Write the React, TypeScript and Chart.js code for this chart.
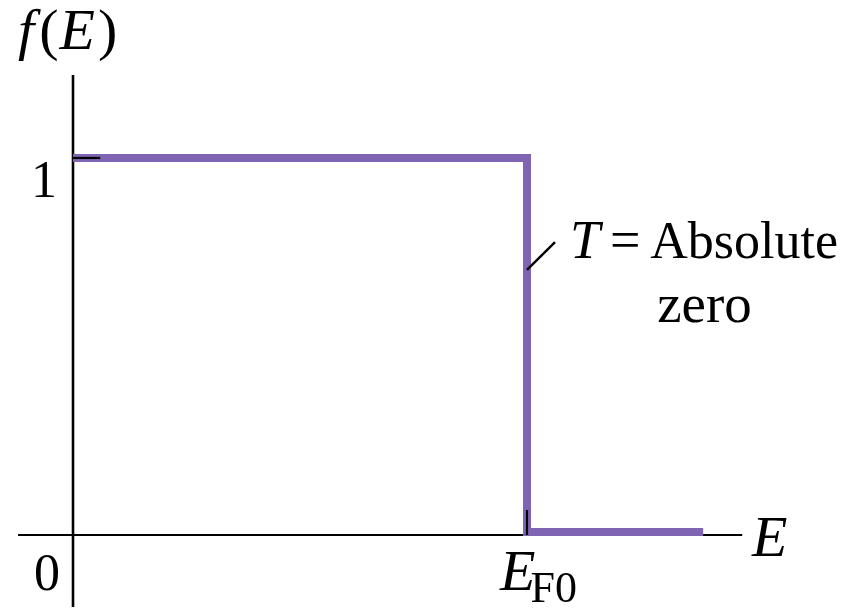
import React, { useEffect, useRef } from "react";
import { Chart, registerables } from "chart.js";

Chart.register(...registerables);

// Fermi–Dirac occupancy at T = 0 (energy in units of E_F0)
const energy = [0, 1, 1, 1.388];
const occupancy = [1, 1, 0.008, 0.008];

// axis extents (data units)
const xAxisSpan = [-0.121, 1.474];
const yAxisSpan = [-0.191, 1.22];
const fermiEnergy = 1;
const unitLevel = 1;

const LINE_COLOR = "#8064b4";
const SERIF = '"Liberation Serif", "Times New Roman", serif';

const axesPlugin = {
  id: "axesPlugin",
  beforeDatasetsDraw(chart: any) {
    const { ctx, scales } = chart;
    const x = scales.x;
    const y = scales.y;
    ctx.save();
    ctx.strokeStyle = "#000";
    ctx.lineCap = "butt";
    ctx.lineWidth = 2.6;
    ctx.beginPath();
    ctx.moveTo(x.getPixelForValue(0), y.getPixelForValue(yAxisSpan[1]));
    ctx.lineTo(x.getPixelForValue(0), y.getPixelForValue(yAxisSpan[0]));
    ctx.stroke();
    ctx.lineWidth = 2;
    ctx.beginPath();
    ctx.moveTo(x.getPixelForValue(xAxisSpan[0]), y.getPixelForValue(0));
    ctx.lineTo(x.getPixelForValue(xAxisSpan[1]), y.getPixelForValue(0));
    ctx.stroke();
    ctx.restore();
  },
  afterDatasetsDraw(chart: any) {
    const { ctx, scales } = chart;
    const x = scales.x;
    const y = scales.y;
    const px = (v: number) => x.getPixelForValue(v);
    const py = (v: number) => y.getPixelForValue(v);
    ctx.save();
    ctx.strokeStyle = "#000";
    ctx.lineWidth = 2.2;
    ctx.beginPath();
    ctx.moveTo(px(0), py(unitLevel));
    ctx.lineTo(px(0.06), py(unitLevel));
    ctx.stroke();
    ctx.beginPath();
    ctx.moveTo(px(fermiEnergy), py(0));
    ctx.lineTo(px(fermiEnergy), py(0.066));
    ctx.stroke();
    ctx.lineWidth = 2.4;
    ctx.beginPath();
    ctx.moveTo(px(1.0), py(0.703));
    ctx.lineTo(px(1.0617), py(0.777));
    ctx.stroke();

    ctx.fillStyle = "#000";
    ctx.textBaseline = "alphabetic";
    const roman = (s: number) => `${s}px ${SERIF}`;
    const italic = (s: number) => `italic ${s}px ${SERIF}`;
    const parts = (items: [string, string, number][], startX: number, baseY: number) => {
      let cx = startX;
      ctx.textAlign = "left";
      for (const [t, f, gap] of items) {
        ctx.font = f;
        ctx.fillText(t, cx, baseY);
        cx += ctx.measureText(t).width + gap;
      }
      return cx;
    };
    const S = 52;
    parts(
      [
        ["f", italic(58), 5],
        ["(", roman(58), 1],
        ["E", italic(58), 3],
        [")", roman(58), 0],
      ],
      px(-0.121),
      py(1.289)
    );
    ctx.font = roman(S);
    ctx.textAlign = "right";
    ctx.fillText("1", px(-0.035), py(0.8966));
    ctx.fillText("0", px(-0.0286), py(-0.146));
    ctx.font = italic(58);
    ctx.textAlign = "left";
    ctx.fillText("E", px(1.4956), py(-0.0557));
    ctx.font = italic(58);
    ctx.fillText("E", px(0.9405), py(-0.146));
    const eW = ctx.measureText("E").width;
    ctx.font = roman(44);
    ctx.fillText("F0", px(0.9405) + eW - 5, py(-0.178));
    // T = Absolute zero
    const baseT = py(0.7347);
    ctx.textAlign = "left";
    ctx.font = italic(54);
    ctx.fillText("T", px(1.0947), baseT);
    ctx.font = roman(54);
    ctx.fillText("=", px(1.183), baseT);
    ctx.font = roman(52);
    ctx.textAlign = "right";
    ctx.fillText("Absolute", px(1.685), baseT);
    ctx.font = roman(55);
    ctx.textAlign = "center";
    ctx.fillText("zero", px(1.391), py(0.565));
    ctx.restore();
  },
};

export default function App() {
  const ref = useRef<HTMLCanvasElement>(null);
  useEffect(() => {
    document.body.style.margin = "0";
    const chart = new Chart(ref.current as HTMLCanvasElement, {
      type: "line",
      data: {
        datasets: [
          {
            data: energy.map((e, i) => ({ x: e, y: occupancy[i] })),
            borderColor: LINE_COLOR,
            borderWidth: 8,
            pointRadius: 0,
            tension: 0,
            fill: false,
            borderJoinStyle: "miter",
            borderCapStyle: "butt",
          } as any,
        ],
      },
      options: {
        animation: false,
        responsive: false,
        layout: { padding: 0 },
        plugins: { legend: { display: false }, tooltip: { enabled: false } },
        scales: {
          x: { type: "linear", min: -0.1608, max: 1.7423, display: false },
          y: { type: "linear", min: -0.199, max: 1.419, display: false },
        },
      },
      plugins: [axesPlugin],
    });
    return () => chart.destroy();
  }, []);
  return (
    <div style={{ position: "absolute", left: 0, top: 0, width: 864, height: 610, background: "#fff" }}>
      <canvas ref={ref} width={864} height={610} />
    </div>
  );
}
